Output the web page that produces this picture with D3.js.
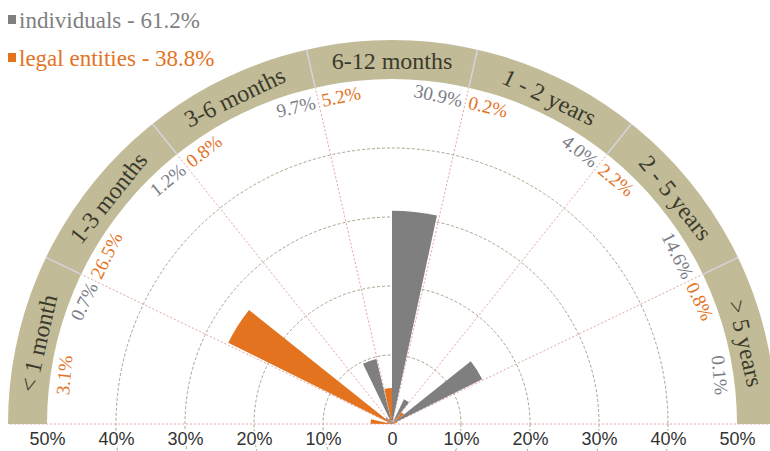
<!DOCTYPE html>
<html>
<head>
<meta charset="utf-8">
<script src="https://cdn.jsdelivr.net/npm/d3@7"></script>
<style>
  html, body { margin: 0; padding: 0; background: #fff; }
  svg { display: block; }
</style>
</head>
<body>
<div id="chart"></div>
<script>
// categories around the half circle, left to right
const categories = ["< 1 month", "1-3 months", "3-6 months", "6-12 months", "1 - 2 years", "2 - 5 years", "> 5 years"];
const legalEntities = [3.1, 26.5, 0.8, 5.2, 0.2, 2.2, 0.8];
const individuals = [0.7, 1.2, 9.7, 30.9, 4.0, 14.6, 0.1];
const legendLabels = ["individuals - 61.2%", "legal entities - 38.8%"];
const gridValues = [10, 20, 30, 40];
const axisTicks = [-50, -40, -30, -20, -10, 0, 10, 20, 30, 40, 50];

const width = 770, height = 451;
const cx = 392, cy = 424;
const innerBand = 345, outerBand = 384;

const grey = "#7f7f7f";
const orange = "#e4731f";
const serif = "'Liberation Serif', 'Times New Roman', serif";

const svg = d3.select("#chart").append("svg")
  .attr("width", width)
  .attr("height", height);

const r = d3.scaleLinear().domain([0, 50]).range([0, innerBand]);
const sectorAngle = Math.PI / categories.length;
const startOf = i => -Math.PI / 2 + i * sectorAngle;
const deg = a => a * 180 / Math.PI;
const pt = (rad, a) => [cx + rad * Math.sin(a), cy - rad * Math.cos(a)];

const g = svg.append("g");

// grid circles (full circles, bottom part peeks under the axis)
g.selectAll("circle.grid")
  .data(gridValues)
  .join("circle")
  .attr("class", "grid")
  .attr("cx", cx).attr("cy", cy)
  .attr("r", d => r(d))
  .attr("fill", "none")
  .attr("stroke", "#aaa48c")
  .attr("stroke-width", 1)
  .attr("stroke-dasharray", "3,2");

// baseline
g.append("line")
  .attr("x1", 10).attr("x2", width)
  .attr("y1", cy).attr("y2", cy)
  .attr("stroke", "#e6a4a4")
  .attr("stroke-dasharray", "2,2");

// spokes between sectors
const bounds = d3.range(1, categories.length);
g.selectAll("line.spoke")
  .data(bounds)
  .join("line")
  .attr("class", "spoke")
  .attr("x1", cx).attr("y1", cy)
  .attr("x2", i => pt(innerBand, startOf(i))[0])
  .attr("y2", i => pt(innerBand, startOf(i))[1])
  .attr("stroke", "#e6a4a4")
  .attr("stroke-dasharray", "2,2");

// outer band
const bandArc = d3.arc().innerRadius(innerBand).outerRadius(outerBand);
g.append("path")
  .attr("transform", `translate(${cx},${cy})`)
  .attr("d", bandArc({ startAngle: -Math.PI / 2, endAngle: Math.PI / 2 }))
  .attr("fill", "#c2bb97");

g.selectAll("line.sep")
  .data(bounds)
  .join("line")
  .attr("class", "sep")
  .attr("x1", i => pt(innerBand, startOf(i))[0])
  .attr("y1", i => pt(innerBand, startOf(i))[1])
  .attr("x2", i => pt(outerBand, startOf(i))[0])
  .attr("y2", i => pt(outerBand, startOf(i))[1])
  .attr("stroke", "#d3d5de")
  .attr("stroke-width", 1.5);

// band labels
g.selectAll("text.cat")
  .data(categories)
  .join("text")
  .attr("class", "cat")
  .attr("transform", (d, i) => {
    const a = startOf(i) + sectorAngle / 2;
    const p = pt(363, a);
    return `translate(${p[0]},${p[1]}) rotate(${deg(a)})`;
  })
  .attr("text-anchor", "middle")
  .attr("dy", "0.35em")
  .attr("font-family", serif)
  .attr("font-size", 24)
  .attr("fill", "#3a3a2c")
  .text(d => d);

// bars
const half = sectorAngle / 2;
const pad = 0.012;
const barArc = d3.arc().innerRadius(0);
const bars = g.append("g").attr("transform", `translate(${cx},${cy})`);

bars.selectAll("path.legal")
  .data(legalEntities)
  .join("path")
  .attr("class", "legal")
  .attr("d", (v, i) => barArc({ outerRadius: r(v), startAngle: startOf(i) + pad, endAngle: startOf(i) + half }))
  .attr("fill", orange);

bars.selectAll("path.indiv")
  .data(individuals)
  .join("path")
  .attr("class", "indiv")
  .attr("d", (v, i) => barArc({ outerRadius: r(v), startAngle: startOf(i) + half, endAngle: startOf(i) + sectorAngle - pad }))
  .attr("fill", grey);

// value labels along the inside of the band
const labelR = 331;
const minA = -Math.PI / 2 + 0.088, maxA = Math.PI / 2 - 0.088;
const fmt = v => v.toFixed(1) + "%";

g.selectAll("text.vlegal")
  .data(legalEntities)
  .join("text")
  .attr("class", "vlegal")
  .attr("transform", (v, i) => {
    const a = Math.max(startOf(i) + 0.01, minA);
    const p = pt(labelR, a);
    return `translate(${p[0]},${p[1]}) rotate(${deg(a)})`;
  })
  .attr("text-anchor", "start")
  .attr("dy", "0.35em")
  .attr("font-family", serif)
  .attr("font-size", 19)
  .attr("fill", orange)
  .text(fmt);

g.selectAll("text.vindiv")
  .data(individuals)
  .join("text")
  .attr("class", "vindiv")
  .attr("transform", (v, i) => {
    const a = Math.min(startOf(i) + sectorAngle - 0.01, maxA);
    const p = pt(labelR, a);
    return `translate(${p[0]},${p[1]}) rotate(${deg(a)})`;
  })
  .attr("text-anchor", "end")
  .attr("dy", "0.35em")
  .attr("font-family", serif)
  .attr("font-size", 19)
  .attr("fill", "#7b7d86")
  .text(fmt);

// bottom axis, both sides of the centre
const x = d3.scaleLinear().domain([-50, 50]).range([cx - innerBand, cx + innerBand]);
const axis = svg.append("g")
  .attr("transform", `translate(0,${cy + 5})`)
  .call(d3.axisBottom(x)
    .tickValues(axisTicks)
    .tickSize(0)
    .tickFormat(d => d === 0 ? "0" : Math.abs(d) + "%"));
axis.select(".domain").remove();
axis.selectAll("text")
  .attr("font-family", "'Liberation Sans', Arial, sans-serif")
  .attr("font-size", 18)
  .attr("fill", "#333")
  .attr("stroke", "#fff")
  .attr("stroke-width", 3)
  .attr("paint-order", "stroke");

// legend
const legend = svg.append("g").attr("transform", "translate(8,0)");
const legendColors = [grey, orange];
const items = legend.selectAll("g")
  .data(legendLabels)
  .join("g")
  .attr("transform", (d, i) => `translate(0,${20 + i * 38})`);
items.append("rect")
  .attr("x", 0).attr("y", -5)
  .attr("width", 8).attr("height", 9)
  .attr("fill", (d, i) => legendColors[i]);
items.append("text")
  .attr("x", 11)
  .attr("dy", "0.35em")
  .attr("font-family", serif)
  .attr("font-size", 23)
  .attr("fill", (d, i) => legendColors[i])
  .text(d => d);
</script>
</body>
</html>
